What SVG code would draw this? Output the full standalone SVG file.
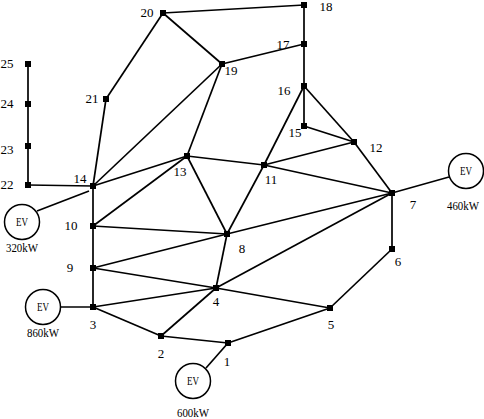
<svg xmlns="http://www.w3.org/2000/svg" width="484" height="419" viewBox="0 0 484 419">
<style>
.e{stroke:#000;stroke-width:1.7;fill:none}
.n{fill:#000}
.t{font-family:"Liberation Serif",serif;font-size:13px;fill:#000;text-anchor:middle}
.ev{fill:#fff;stroke:#000;stroke-width:1.5}
</style>
<rect width="484" height="419" fill="#fff"/>
<g id="connectors" class="e">
<line x1="228" y1="343" x2="161" y2="336"/>
<line x1="228" y1="343" x2="330" y2="308"/>
<line x1="206" y1="368" x2="228" y2="343"/>
<line x1="161" y1="336" x2="93" y2="307"/>
<line x1="161" y1="336" x2="216" y2="288"/>
<line x1="93" y1="307" x2="216" y2="288"/>
<line x1="93" y1="307" x2="93" y2="186"/>
<line x1="60" y1="307" x2="93" y2="307"/>
<line x1="216" y1="288" x2="93" y2="268"/>
<line x1="216" y1="288" x2="227" y2="234"/>
<line x1="216" y1="288" x2="330" y2="308"/>
<line x1="216" y1="288" x2="392" y2="193"/>
<line x1="330" y1="308" x2="392" y2="249"/>
<line x1="392" y1="249" x2="392" y2="193"/>
<line x1="392" y1="193" x2="227" y2="234"/>
<line x1="392" y1="193" x2="264" y2="165"/>
<line x1="392" y1="193" x2="354" y2="142"/>
<line x1="449" y1="177" x2="392" y2="193"/>
<line x1="227" y1="234" x2="93" y2="226"/>
<line x1="227" y1="234" x2="93" y2="268"/>
<line x1="227" y1="234" x2="187" y2="156"/>
<line x1="227" y1="234" x2="264" y2="165"/>
<line x1="93" y1="226" x2="187" y2="156"/>
<line x1="264" y1="165" x2="354" y2="142"/>
<line x1="264" y1="165" x2="304" y2="86"/>
<line x1="264" y1="165" x2="187" y2="156"/>
<line x1="354" y1="142" x2="304" y2="126"/>
<line x1="354" y1="142" x2="304" y2="86"/>
<line x1="187" y1="156" x2="93" y2="186"/>
<line x1="187" y1="156" x2="222" y2="64"/>
<line x1="93" y1="186" x2="28" y2="185"/>
<line x1="93" y1="186" x2="106" y2="99"/>
<line x1="93" y1="186" x2="222" y2="64"/>
<line x1="37" y1="211" x2="89" y2="191"/>
<line x1="304" y1="126" x2="304" y2="5"/>
<line x1="304" y1="44" x2="222" y2="64"/>
<line x1="304" y1="5" x2="163" y2="13"/>
<line x1="163" y1="13" x2="222" y2="64"/>
<line x1="163" y1="13" x2="106" y2="99"/>
<line x1="28" y1="185" x2="28" y2="64"/>
</g>
<g id="n1"><rect class="n" x="225" y="340" width="6" height="6"/><text class="t" x="227" y="366">1</text></g>
<g id="n2"><rect class="n" x="158" y="333" width="6" height="6"/><text class="t" x="161" y="358">2</text></g>
<g id="n3"><rect class="n" x="90" y="304" width="6" height="6"/><text class="t" x="93" y="329">3</text></g>
<g id="n4"><rect class="n" x="213" y="285" width="6" height="6"/><text class="t" x="216" y="306">4</text></g>
<g id="n5"><rect class="n" x="327" y="305" width="6" height="6"/><text class="t" x="331" y="329">5</text></g>
<g id="n6"><rect class="n" x="389" y="246" width="6" height="6"/><text class="t" x="398" y="266">6</text></g>
<g id="n7"><rect class="n" x="389" y="190" width="6" height="6"/><text class="t" x="413" y="209">7</text></g>
<g id="n8"><rect class="n" x="224" y="231" width="6" height="6"/><text class="t" x="242" y="253">8</text></g>
<g id="n9"><rect class="n" x="90" y="265" width="6" height="6"/><text class="t" x="70" y="272">9</text></g>
<g id="n10"><rect class="n" x="90" y="223" width="6" height="6"/><text class="t" x="71" y="230">10</text></g>
<g id="n11"><rect class="n" x="261" y="162" width="6" height="6"/><text class="t" x="271" y="184">11</text></g>
<g id="n12"><rect class="n" x="351" y="139" width="6" height="6"/><text class="t" x="376" y="152">12</text></g>
<g id="n13"><rect class="n" x="184" y="153" width="6" height="6"/><text class="t" x="180" y="176">13</text></g>
<g id="n14"><rect class="n" x="90" y="183" width="6" height="6"/><text class="t" x="80" y="183">14</text></g>
<g id="n15"><rect class="n" x="301" y="123" width="6" height="6"/><text class="t" x="295" y="137">15</text></g>
<g id="n16"><rect class="n" x="301" y="83" width="6" height="6"/><text class="t" x="284" y="95">16</text></g>
<g id="n17"><rect class="n" x="301" y="41" width="6" height="6"/><text class="t" x="283" y="49">17</text></g>
<g id="n18"><rect class="n" x="301" y="2" width="6" height="6"/><text class="t" x="326" y="11">18</text></g>
<g id="n19"><rect class="n" x="219" y="61" width="6" height="6"/><text class="t" x="231" y="75">19</text></g>
<g id="n20"><rect class="n" x="160" y="10" width="6" height="6"/><text class="t" x="147" y="17">20</text></g>
<g id="n21"><rect class="n" x="103" y="96" width="6" height="6"/><text class="t" x="92" y="103">21</text></g>
<g id="n22"><rect class="n" x="25" y="182" width="6" height="6"/><text class="t" x="7" y="189">22</text></g>
<g id="n23"><rect class="n" x="25" y="143" width="6" height="6"/><text class="t" x="7" y="154">23</text></g>
<g id="n24"><rect class="n" x="25" y="101" width="6" height="6"/><text class="t" x="7" y="108">24</text></g>
<g id="n25"><rect class="n" x="25" y="61" width="6" height="6"/><text class="t" x="7" y="68">25</text></g>
<g id="ev14"><circle class="ev" cx="22" cy="222" r="17.5"/><text class="t" x="22" y="226" textLength="12" lengthAdjust="spacingAndGlyphs">EV</text><text class="t" x="22" y="252" textLength="32" lengthAdjust="spacingAndGlyphs">320kW</text></g>
<g id="ev3"><circle class="ev" cx="43" cy="307" r="17.5"/><text class="t" x="43" y="311" textLength="12" lengthAdjust="spacingAndGlyphs">EV</text><text class="t" x="43" y="337" textLength="32" lengthAdjust="spacingAndGlyphs">860kW</text></g>
<g id="ev1"><circle class="ev" cx="193" cy="381" r="17.5"/><text class="t" x="193" y="385" textLength="12" lengthAdjust="spacingAndGlyphs">EV</text><text class="t" x="193" y="417" textLength="32" lengthAdjust="spacingAndGlyphs">600kW</text></g>
<g id="ev7"><circle class="ev" cx="466" cy="171" r="17.5"/><text class="t" x="463" y="210" textLength="32" lengthAdjust="spacingAndGlyphs">460kW</text><text class="t" x="466" y="175" textLength="12" lengthAdjust="spacingAndGlyphs">EV</text></g>
</svg>
